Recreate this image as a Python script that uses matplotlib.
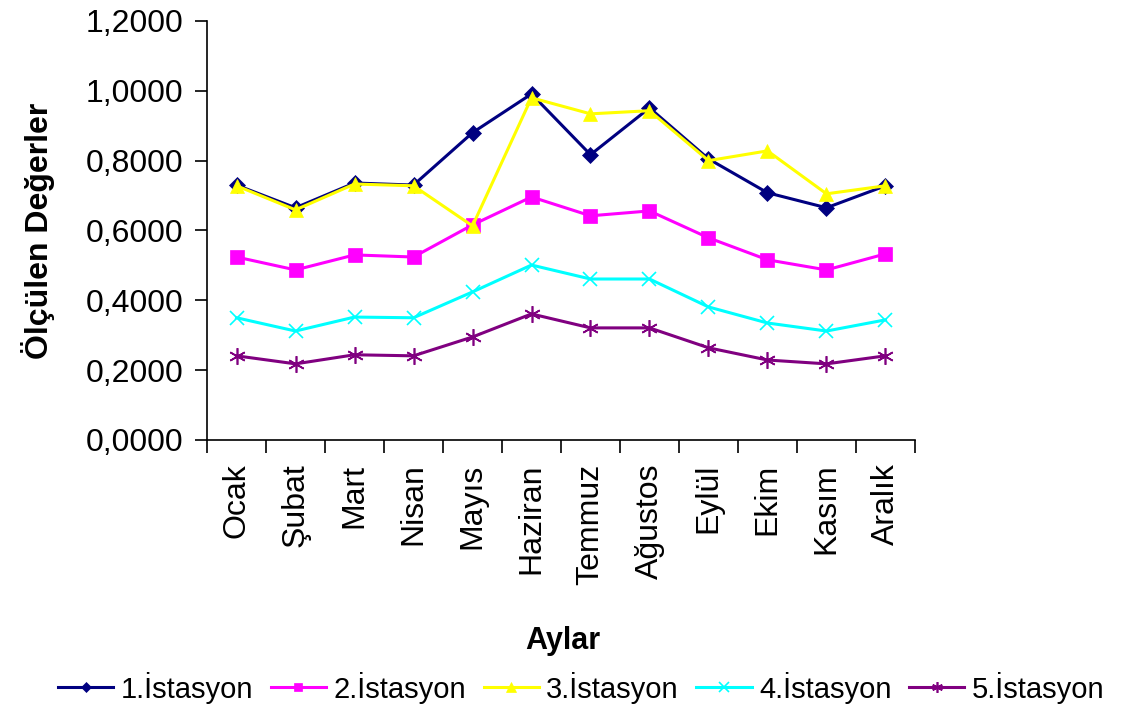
import numpy as np
import matplotlib.pyplot as plt
from matplotlib.ticker import FuncFormatter, FixedLocator

plt.rcParams['font.family'] = ['Liberation Sans', 'DejaVu Sans']

months = ['Ocak', 'Şubat', 'Mart', 'Nisan', 'Mayıs', 'Haziran',
          'Temmuz', 'Ağustos', 'Eylül', 'Ekim', 'Kasım', 'Aralık']

ist1 = [0.730, 0.665, 0.736, 0.730, 0.880, 0.991, 0.817, 0.951, 0.805, 0.708, 0.665, 0.728]
ist2 = [0.524, 0.487, 0.530, 0.524, 0.616, 0.696, 0.642, 0.656, 0.579, 0.516, 0.487, 0.533]
ist3 = [0.728, 0.659, 0.733, 0.728, 0.613, 0.980, 0.934, 0.943, 0.800, 0.828, 0.705, 0.728]
ist4 = [0.350, 0.312, 0.352, 0.350, 0.424, 0.501, 0.461, 0.461, 0.381, 0.335, 0.312, 0.344]
ist5 = [0.241, 0.218, 0.244, 0.241, 0.295, 0.361, 0.321, 0.321, 0.264, 0.229, 0.218, 0.241]

series = [
    ('1.İstasyon', ist1, '#000080', 'D', 8),
    ('2.İstasyon', ist2, '#FF00FF', 's', 9.5),
    ('3.İstasyon', ist3, '#FFFF00', '^', 10),
    ('4.İstasyon', ist4, '#00FFFF', 'x', 10),
    ('5.İstasyon', ist5, '#800080', (6, 2, 0), 12),
]

fig = plt.figure(figsize=(11.22, 7.06), dpi=100)
ax = fig.add_axes([0.1845, 0.3768, 0.631, 0.5935])

x = np.arange(len(months))
for name, vals, col, mk, ms in series:
    ax.plot(x, vals, color=col, marker=mk, markersize=ms, linewidth=2.2,
            markeredgewidth=1.2 if mk in ('x', (6, 2, 0)) else 0.5,
            markeredgecolor=col, label=name)

ax.set_xlim(-0.5, len(months) - 0.5)
ax.set_ylim(0, 1.2)
ax.set_yticks(np.arange(0, 1.21, 0.2))
ax.yaxis.set_major_formatter(FuncFormatter(lambda v, p: f'{v:.4f}'.replace('.', ',')))

ax.set_xticks(x)
ax.set_xticklabels(months, rotation=90)
# category boundaries get the tick marks, labels sit between them
ax.xaxis.set_minor_locator(FixedLocator(np.arange(-0.5, len(months), 1.0)))
ax.tick_params(axis='x', which='major', length=0, pad=17, labelsize=23)
ax.tick_params(axis='x', which='minor', length=9, width=1.2, direction='out')
ax.tick_params(axis='y', length=9, width=1.2, labelsize=23, pad=8)

for s in ('top', 'right'):
    ax.spines[s].set_visible(False)
for s in ('left', 'bottom'):
    ax.spines[s].set_linewidth(1.2)

ax.set_ylabel('Ölçülen Değerler', fontsize=23, fontweight='bold')
ax.yaxis.set_label_coords(-0.215, 0.5)
ax.set_xlabel('Aylar', fontsize=22, fontweight='bold')
ax.xaxis.set_label_coords(0.503, -0.443)

fig.legend(loc='center', bbox_to_anchor=(0.518, 0.026), ncol=5, frameon=False,
           fontsize=21, handlelength=1.9, handletextpad=0.25, columnspacing=0.6,
           markerscale=0.65)

fig.savefig('out.png', dpi=100)
